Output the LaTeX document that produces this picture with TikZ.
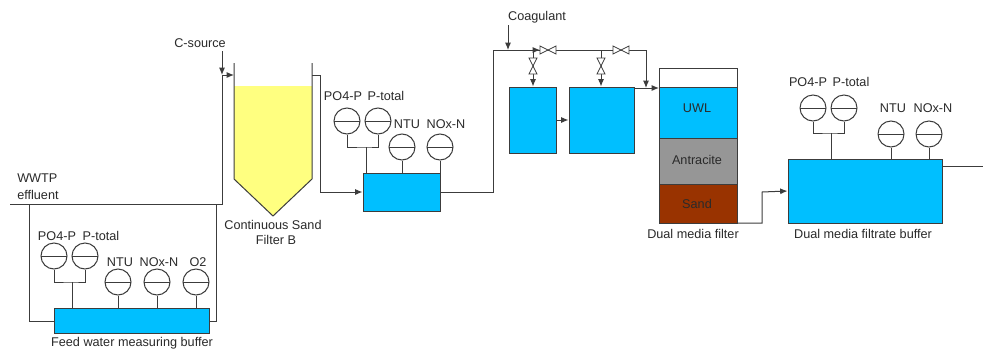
\documentclass[tikz,border=0pt]{standalone}
\usepackage{fontspec}
\setmainfont{Liberation Sans}
\usetikzlibrary{arrows.meta}
\definecolor{ln}{HTML}{3C3C3C}
\definecolor{txt}{HTML}{2A2A2A}
\definecolor{wtr}{HTML}{00BFFF}
\definecolor{sandY}{HTML}{FFFF80}
\definecolor{anth}{HTML}{969696}
\definecolor{sandB}{HTML}{993300}
\tikzset{
  pipe/.style={draw=ln,line width=0.75pt},
  flow/.style={pipe,-{Latex[length=5.5pt,width=4.5pt]}},
  lbl/.style={text=txt,font=\fontsize{9.5}{10.5}\selectfont,inner sep=0pt,align=center},
  tank/.style={draw=ln,line width=0.75pt,fill=wtr,inner sep=0pt},
  gauge/.style={circle,draw=ln,line width=0.75pt,fill=white,minimum size=19.5pt,inner sep=0pt,
    path picture={\draw[ln,line width=0.6pt] (path picture bounding box.west) -- (path picture bounding box.east);}},
  valveh/.pic={\draw[ln,fill=white,line width=0.6pt] (-8,-4)--(8,4)--(8,-4)--(-8,4)--cycle;},
  valvev/.pic={\draw[ln,fill=white,line width=0.6pt] (-4,-8)--(4,8)--(-4,8)--(4,-8)--cycle;},
}
\newcommand{\tankbox}[6][tank]{\node[#1,minimum width={(#5-#3)*0.75pt},minimum height={(#6-#4)*0.75pt}] (#2) at ({(#3+#5)/2},{(#4+#6)/2}) {};}
\begin{document}
\begin{tikzpicture}[x=0.75pt,y=-0.75pt]
\useasboundingbox[fill=white] (0,0) rectangle (984,350);

% sand filter
\coordinate (fTL) at (234,63);
\coordinate (fTR) at (312,63);
\coordinate (fFL) at (234,86);
\coordinate (fFR) at (312,86);
\coordinate (fBL) at (234,179);
\coordinate (fBR) at (312,179);
\coordinate (fTip) at (273,216);
\fill[sandY] (fFL) -- (fFR) -- (fBR) -- (fTip) -- (fBL) -- cycle;
\draw[pipe] (fTL) -- (fBL) -- (fTip) -- (fBR) -- (fTR);

% tanks
\tankbox{feed}{54}{308}{209}{333}
\tankbox{mid}{363}{173}{440}{211}
\tankbox{t1}{509}{87}{556}{153}
\tankbox{t2}{569}{87}{634}{153}
\tankbox{outb}{788}{159}{942}{223}
\tankbox[tank,fill=white]{fTop}{659}{68}{737}{87}
\tankbox{uwl}{659}{87}{737}{138}
\tankbox[tank,fill=anth]{ant}{659}{138}{737}{184}
\tankbox[tank,fill=sandB]{snd}{659}{184}{737}{223}

% feed section
\coordinate (effL) at (10,204);
\coordinate (effC) at (222,204);
\coordinate (loopL) at (29,204);
\coordinate (loopR) at (216,204);
\coordinate (csTop) at (222,75);
\coordinate (cs0) at (222,51);
\coordinate (feedY) at (0,321);
\draw[pipe] (effL) -- (effC) -- (csTop);
\draw[flow] (csTop) -- (fTL |- csTop);
\draw[flow] (cs0) -- (csTop);
\draw[pipe] (loopL) -- (loopL |- feedY) -- (feed.west |- feedY);
\draw[pipe] (feed.east |- feedY) -- (loopR |- feedY) -- (loopR);

% gauges 1
\node[gauge] (g1a) at (54,256) {};
\node[gauge] (g1b) at (85,256) {};
\node[gauge] (g1c) at (118,282) {};
\node[gauge] (g1d) at (157,282) {};
\node[gauge] (g1e) at (196,282) {};
\coordinate (j1) at (72,282);
\draw[pipe] (g1a.south) |- (j1) -| (g1b.south);
\draw[pipe] (j1) -- (j1 |- feed.north);
\foreach \g in {g1c,g1d,g1e} \draw[pipe] (\g.south) -- (\g.south |- feed.north);

% mid section
\coordinate (o1) at (320,75);
\draw[pipe] (fTR |- o1) -- (o1);
\draw[flow] (o1) -- (o1 |- mid.west) -- (mid.west);
\node[gauge] (g2a) at (347,121) {};
\node[gauge] (g2b) at (378,121) {};
\node[gauge] (g2c) at (402,147) {};
\node[gauge] (g2d) at (440,147) {};
\coordinate (j2) at (366,147);
\draw[pipe] (g2a.south) |- (j2) -| (g2b.south);
\draw[pipe] (j2) -- (j2 |- mid.north);
\foreach \g in {g2c,g2d} \draw[pipe] (\g.south) -- (\g.south |- mid.north);

% coagulation
\coordinate (m0) at (493,50);
\coordinate (m1) at (646,50);
\coordinate (co0) at (508,25);
\coordinate (co1) at (508,50);
\coordinate (bA) at (533,50);
\coordinate (bB) at (601,50);
\coordinate (t2o) at (634,88);
\coordinate (fIn) at (659,88);
\draw[pipe] (mid.east) -- (mid.east -| m0) -- (m0) -- (bA);
\draw[flow] (co0) -- (co1);
\draw[flow] (bA) -- (540,50);
\draw[pipe] (bA) -- (m1);
\draw[flow] (m1) -- (646,88);
\draw[flow] (bA) -- (bA |- t1.north);
\draw[flow] (bB) -- (bB |- t2.north);
\draw[flow] (t1.east) -- (t2.west);
\draw[flow] (t2o) -- (fIn);
\pic at (548,50) {valveh};
\pic at (621,50) {valveh};
\pic at (533,66) {valvev};
\pic at (601,66) {valvev};

% outlet section
\coordinate (u0) at (737,223);
\coordinate (u1) at (762,223);
\coordinate (u2) at (762,192);
\draw[flow] (u0) -- (u1) -- (u2) -- (outb.west);
\coordinate (o2) at (983,166);
\draw[pipe] (outb.east |- o2) -- (o2);
\node[gauge] (g3a) at (813,108) {};
\node[gauge] (g3b) at (844,108) {};
\node[gauge] (g3c) at (891,134) {};
\node[gauge] (g3d) at (929,134) {};
\coordinate (j3) at (831,133);
\draw[pipe] (g3a.south) |- (j3) -| (g3b.south);
\draw[pipe] (j3) -- (j3 |- outb.north);
\foreach \g in {g3c,g3d} \draw[pipe] (\g.south) -- (\g.south |- outb.north);

% labels
\node[lbl,anchor=west] (lw) at (17,178) {WWTP};
\node[lbl,anchor=west] (le) at (17,195) {effluent};
\node[lbl] (l1a) at (57,236) {PO4-P};
\node[lbl] (l1b) at (101,236) {P-total};
\node[lbl] (l1c) at (120,262) {NTU};
\node[lbl] (l1d) at (159,262) {NOx-N};
\node[lbl] (l1e) at (198,262) {O2};
\node[lbl] (l1f) at (132,343) {Feed water measuring buffer};
\node[lbl] (lcs) at (200,43) {C-source};
\node[lbl] (lsf1) at (273,225) {Continuous Sand};
\node[lbl] (lsf2) at (276,240) {Filter B};
\node[lbl] (l2a) at (343,96) {PO4-P};
\node[lbl] (l2b) at (386,96) {P-total};
\node[lbl] (l2c) at (407,124) {NTU};
\node[lbl] (l2d) at (446,124) {NOx-N};
\node[lbl] (lco) at (537,17) {Coagulant};
\node[lbl] (luw) at (697,108) {UWL};
\node[lbl] (lan) at (697,160) {Antracite};
\node[lbl] (lsa) at (697,204) {Sand};
\node[lbl] (ldf) at (693,234) {Dual media filter};
\node[lbl] (l3a) at (808,82) {PO4-P};
\node[lbl] (l3b) at (851,82) {P-total};
\node[lbl] (l3c) at (893,108) {NTU};
\node[lbl] (l3d) at (933,108) {NOx-N};
\node[lbl] (l3f) at (863,234) {Dual media filtrate buffer};
\end{tikzpicture}
\end{document}
